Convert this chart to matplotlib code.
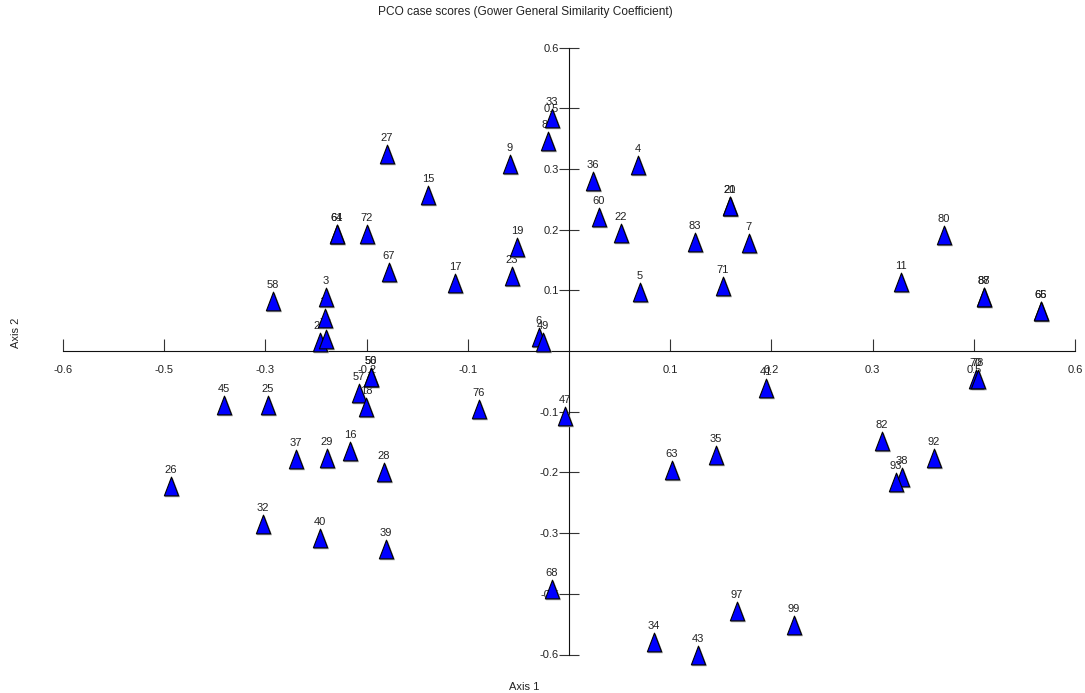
import matplotlib
matplotlib.use("Agg")
import matplotlib.pyplot as plt
import matplotlib.transforms as mtransforms
from matplotlib.path import Path
import numpy as np

plt.rcParams['font.family'] = ['Liberation Sans', 'DejaVu Sans']

# ---- data ----
case_labels = ["33", "81", "9", "36", "4", "60", "22", "83", "20", "21", "7", "5", "71",
               "80", "11", "87", "88", "65", "66", "70", "78", "41", "47", "76", "28",
               "16", "57", "18", "50", "56", "45", "25", "37", "29", "26", "32", "40",
               "39", "27", "15", "61", "64", "72", "67", "17", "58", "3", "13", "24",
               "79", "6", "49", "19", "23", "68", "63", "35", "82", "92", "38", "93",
               "97", "99", "34", "43"]
axis1 = [-0.0202, -0.0249, -0.0700, 0.0285, 0.0818, 0.0356, 0.0617, 0.1494, 0.1909, 0.1909,
         0.2134, 0.0842, 0.1826, 0.4447, 0.3937, 0.4921, 0.4921, 0.5597, 0.5597, 0.4826,
         0.4850, 0.2336, -0.0047, -0.1067, -0.2194, -0.2597, -0.2490, -0.2407, -0.2348,
         -0.2348, -0.4091, -0.3569, -0.3237, -0.2870, -0.4720, -0.3629, -0.2953, -0.2170,
         -0.2158, -0.1672, -0.2751, -0.2751, -0.2395, -0.2134, -0.1352, -0.3510, -0.2882,
         -0.2893, -0.2953, -0.2882, -0.0356, -0.0308, -0.0617, -0.0676, -0.0202, 0.1221,
         0.1743, 0.3712, 0.4328, 0.3949, 0.3878, 0.1992, 0.2668, 0.1008, 0.1530]
axis2 = [0.4607, 0.4152, 0.3697, 0.3361, 0.3677, 0.2649, 0.2333, 0.2155, 0.2867, 0.2867,
         0.2135, 0.1166, 0.1285, 0.2293, 0.1364, 0.1068, 0.1068, 0.0791, 0.0791, -0.0554,
         -0.0554, -0.0732, -0.1285, -0.1147, -0.2392, -0.1977, -0.0830, -0.1107, -0.0514,
         -0.0514, -0.1068, -0.1068, -0.2135, -0.2115, -0.2669, -0.3420, -0.3697, -0.3915,
         0.3895, 0.3084, 0.2313, 0.2313, 0.2313, 0.1562, 0.1344, 0.0989, 0.1068, 0.0652,
         0.0178, 0.0237, 0.0277, 0.0178, 0.2056, 0.1483, -0.4705, -0.2353, -0.2056,
         -0.1779, -0.2115, -0.2491, -0.2590, -0.5140, -0.5417, -0.5753, -0.6010]

x_tick_vals = [-0.6, -0.48, -0.36, -0.24, -0.12, 0.12, 0.24, 0.36, 0.48, 0.6]
x_tick_labels = ["-0.6", "-0.5", "-0.3", "-0.2", "-0.1", "0.1", "0.2", "0.3", "0.5", "0.6"]
y_tick_vals = [0.6, 0.48, 0.36, 0.24, 0.12, -0.12, -0.24, -0.36, -0.48, -0.6]
y_tick_labels = ["0.6", "0.5", "0.3", "0.2", "0.1", "-0.1", "-0.2", "-0.3", "-0.5", "-0.6"]

title = "PCO case scores (Gower General Similarity Coefficient)"
xlabel = "Axis 1"
ylabel = "Axis 2"

# ---- figure ----
W, H = 1085, 693
fig = plt.figure(figsize=(W / 100, H / 100), dpi=100)
ax = fig.add_axes([63 / W, 1 - 654.5 / H, (1075 - 63) / W, (654.5 - 47.5) / H])
ax.set_xlim(-0.6, 0.6)
ax.set_ylim(-0.6, 0.6)
ax.patch.set_visible(False)

for s in ['top', 'right']:
    ax.spines[s].set_visible(False)
ax.spines['left'].set_position(('data', 0))
ax.spines['bottom'].set_position(('data', 0))
for s in ['left', 'bottom']:
    ax.spines[s].set_linewidth(0.8)
    ax.spines[s].set_color('#111111')

ax.set_xticks(x_tick_vals)
ax.set_xticklabels(x_tick_labels)
ax.set_yticks(y_tick_vals)
ax.set_yticklabels(y_tick_labels)
ax.tick_params(axis='x', direction='in', length=8.6, width=0.8, color='#333333',
               pad=10.2, labelsize=8, labelcolor='#222222')
ax.tick_params(axis='y', direction='inout', length=13.7, width=0.8, color='#333333',
               pad=0.3, labelsize=8, labelcolor='#222222')

# triangle marker (taller than wide)
tri = Path([(0, 1), (-0.76, -1), (0.76, -1), (0, 1)],
           [Path.MOVETO, Path.LINETO, Path.LINETO, Path.CLOSEPOLY])
ms = 13.5

shadow_tr = mtransforms.offset_copy(ax.transData, fig=fig, x=0.5, y=-1.0, units='points')
ax.plot(axis1, axis2, linestyle='none', marker=tri, markersize=ms,
        markerfacecolor='#a0a0a0', markeredgecolor='#a0a0a0', markeredgewidth=0.5,
        transform=shadow_tr, zorder=3.5, clip_on=False)
ax.plot(axis1, axis2, linestyle='none', marker=tri, markersize=ms,
        markerfacecolor='#0000ff', markeredgecolor='black', markeredgewidth=0.8,
        zorder=4, clip_on=False)

for lab, xv, yv in zip(case_labels, axis1, axis2):
    ax.annotate(lab, (xv, yv), xytext=(0, 11.4), textcoords='offset points',
                ha='center', va='center', fontsize=8, color='#222222',
                zorder=3, annotation_clip=False)

fig.text(525 / W, 1 - 12 / H, title, ha='center', va='center', fontsize=8.6, color='#222222')
fig.text(524 / W, 1 - 687 / H, xlabel, ha='center', va='center', fontsize=8, color='#222222')
fig.text(16 / W, 1 - 333 / H, ylabel, ha='center', va='center', rotation=90,
         fontsize=8, color='#222222')

fig.savefig("out.png", dpi=100)
